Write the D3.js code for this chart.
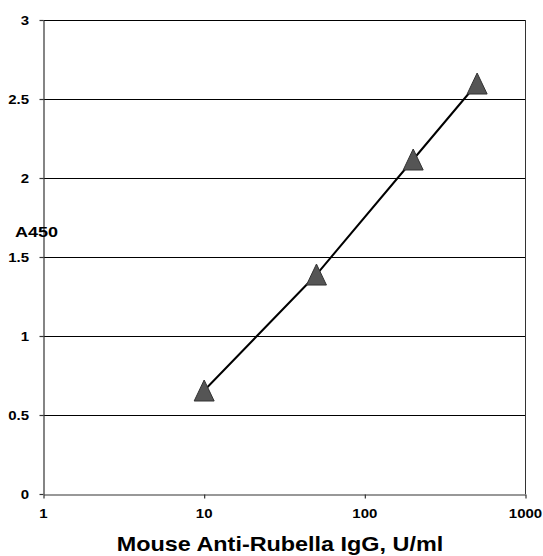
<!DOCTYPE html>
<html>
<head>
<meta charset="utf-8">
<script src="https://cdn.jsdelivr.net/npm/d3@7"></script>
<style>
  body { margin: 0; background: #fff; }
  text { font-family: "Liberation Sans", Arial, sans-serif; font-weight: bold; fill: #000; }
</style>
</head>
<body>
<svg width="543" height="556"></svg>
<script>
const concentrations = [10, 50, 200, 500];
const absorbance = [0.655, 1.389, 2.117, 2.598];
const xTicks = [1, 10, 100, 1000];
const yTicks = [0, 0.5, 1, 1.5, 2, 2.5, 3];

const xTitle = "Mouse Anti-Rubella IgG, U/ml";
const yTitle = "A450";

const svg = d3.select("svg");
const stretch = 1.2; // text in the picture is wider than plain Arial

const plotLeft = 43.5, plotRight = 525.5, plotTop = 20, plotBottom = 494;

const x = d3.scaleLog().domain([1, 1000]).range([plotLeft, plotRight]);
const y = d3.scaleLinear().domain([0, 3]).range([plotBottom, plotTop]);

// horizontal gridlines
svg.append("g").selectAll("line").data(yTicks.slice(1))
  .enter().append("line")
    .attr("x1", plotLeft).attr("x2", plotRight)
    .attr("y1", d => Math.round(y(d)) + 0.5).attr("y2", d => Math.round(y(d)) + 0.5)
    .attr("stroke", "#000").attr("stroke-width", 1);

// right border
svg.append("line")
  .attr("x1", plotRight).attr("x2", plotRight)
  .attr("y1", plotTop).attr("y2", plotBottom)
  .attr("stroke", "#333").attr("stroke-width", 1);

// axes
const xAxis = svg.append("g")
  .attr("transform", `translate(0,${plotBottom + 0.5})`)
  .call(d3.axisBottom(x).tickValues(xTicks).tickSize(4).tickSizeOuter(0).tickFormat(""));
const yAxis = svg.append("g")
  .attr("transform", `translate(${plotLeft},0)`)
  .call(d3.axisLeft(y).tickValues(yTicks).tickSize(4).tickSizeOuter(0).tickFormat(""));
[xAxis, yAxis].forEach(a => {
  a.selectAll("path, line").attr("stroke", "#333").attr("stroke-width", 1.2);
});

// tick labels (drawn separately so they can be stretched)
svg.append("g").selectAll("text").data(xTicks)
  .enter().append("text")
    .attr("transform", d => `translate(${x(d)},518) scale(${stretch},1)`)
    .attr("text-anchor", "middle")
    .attr("font-size", 12.5)
    .text(d => d);

svg.append("g").selectAll("text").data(yTicks)
  .enter().append("text")
    .attr("transform", d => `translate(29,${y(d) + 4.5}) scale(${stretch},1)`)
    .attr("text-anchor", "end")
    .attr("font-size", 12.5)
    .text(d => d);

// axis titles
svg.append("text")
  .attr("transform", `translate(280,551) scale(${stretch},1)`)
  .attr("text-anchor", "middle")
  .attr("font-size", 19.5)
  .text(xTitle);

svg.append("text")
  .attr("transform", `translate(15,237) scale(${stretch},1)`)
  .attr("font-size", 15)
  .text(yTitle);

// series line
const points = concentrations.map((c, i) => [c, absorbance[i]]);
svg.append("path")
  .datum(points)
  .attr("fill", "none")
  .attr("stroke", "#000")
  .attr("stroke-width", 2)
  .attr("d", d3.line().x(d => x(d[0])).y(d => y(d[1])));

// triangle markers
const tri = "M0,-10.5L10,10.5L-10,10.5Z";
svg.append("g").selectAll("path").data(points)
  .enter().append("path")
    .attr("transform", d => `translate(${x(d[0])},${y(d[1])})`)
    .attr("d", tri)
    .attr("fill", "#555")
    .attr("stroke", "#333")
    .attr("stroke-width", 1);
</script>
</body>
</html>
